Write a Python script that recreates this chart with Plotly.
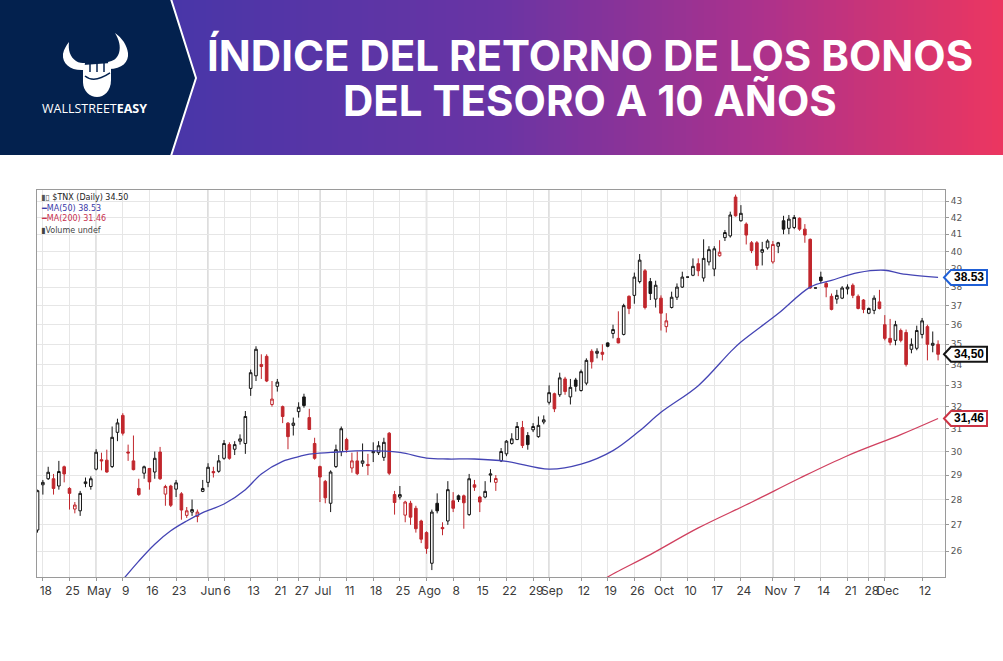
import math
import pandas as pd
import plotly.graph_objects as go

# ---------------- data ($TNX, daily, 2022) ----------------
holidays = ["2022-04-15", "2022-05-30", "2022-06-20", "2022-07-04", "2022-09-05", "2022-11-24"]
days = [d.strftime("%Y-%m-%d") for d in pd.bdate_range("2022-04-14", "2022-12-15")
        if d.strftime("%Y-%m-%d") not in holidays]

open_vals = [
    26.8, 28.6, 28.85, 28.85, 28.55, 29.35, 28.45, 27.62, 27.55, 28.65,   # Apr 14
    28.53, 29.25, 29.65, 29.63, 29.36, 30.84, 31.6, 29.98, 29.6, 28.45,   # Apr 29
    29.08, 29.28, 29.13, 29.98, 28.22, 28.55, 28.42, 28.23, 27.37, 27.5,  # May 13
    27.33, 28.33, 28.7, 29.15, 29.16, 29.71, 30.3, 30.1, 30.45, 30.35,    # May 27
    32.85, 33.45, 34.0, 34.4, 32.1, 32.95, 32.0, 31.25, 31.15, 31.77,     # Jun 13
    32.45, 31.5, 30.35, 29.36, 28.74, 27.85, 29.36, 30.0, 30.52, 29.3,    # Jun 28
    29.6, 29.5, 29.45, 29.95, 29.95, 29.75, 30.8, 28.2, 28.1, 27.38,      # Jul 13
    27.85, 27.65, 27.15, 26.7, 25.55, 27.85, 26.9, 27.15, 27.95, 28.15,   # Jul 27
    28.15, 27.4, 28.6, 28.1, 28.1, 29.0, 28.7, 29.6, 29.9, 30.35,         # Aug 10
    30.52, 31.05, 30.7, 30.95, 30.65, 31.3, 32.2, 32.6, 32.55, 33.3,      # Aug 24
    32.45, 33.25, 32.75, 33.1, 34.65, 34.55, 34.6, 35.07, 35.55, 35.3,    # Sep 8
    35.5, 37.5, 37.55, 38.3, 38.9, 38.3, 37.35, 37.4, 35.9, 36.9,         # Sep 22
    37.45, 38.0, 38.55, 38.65, 39.3, 38.5, 39.4, 39.0, 39.75, 40.8,       # Oct 6
    40.9, 43.25, 41.8, 41.6, 40.5, 40.5, 39.95, 40.2, 39.4, 40.3,         # Oct 20
    41.8, 41.35, 41.4, 41.95, 41.3, 40.7, 37.95, 38.55, 38.2, 37.5,       # Nov 3
    37.35, 37.4, 37.9, 38.1, 37.5, 37.3, 36.6, 36.75, 37.2, 36.0,         # Nov 17
    35.3, 35.2, 35.7, 35.6, 34.75, 34.8, 35.5, 35.9, 34.95, 35.0,         # Dec 2
]
high_vals = [
    28.4, 28.8, 29.35, 29.05, 29.6, 29.4, 28.5, 27.9, 28.35, 28.9,
    28.95, 30.1, 29.95, 30.08, 31.1, 31.45, 31.7, 30.3, 30.7, 28.85,
    29.4, 29.3, 30.0, 30.2, 28.6, 28.6, 28.8, 28.3, 27.7, 28.0,
    27.6, 28.8, 29.5, 29.35, 29.85, 30.5, 30.4, 30.45, 30.75, 31.8,
    33.75, 34.9, 34.5, 34.5, 33.2, 33.3, 32.05, 31.3, 31.5, 32.2,
    32.6, 31.9, 30.6, 29.4, 28.8, 29.2, 30.3, 31.1, 30.6, 29.95,
    30.0, 30.35, 29.9, 30.4, 30.45, 30.6, 30.85, 28.35, 28.55, 27.95,
    27.95, 27.75, 27.2, 26.75, 27.6, 28.25, 27.1, 28.75, 28.3, 28.2,
    28.2, 29.05, 28.8, 28.15, 28.75, 29.25, 29.0, 30.15, 30.5, 30.8,
    31.3, 31.35, 30.85, 31.25, 31.55, 31.6, 33.0, 32.65, 33.6, 33.4,
    33.3, 33.35, 33.75, 34.3, 34.75, 34.8, 35.0, 35.1, 36.0, 36.7,
    37.1, 37.55, 38.8, 39.85, 39.0, 38.5, 38.35, 37.55, 36.6, 37.75,
    38.2, 38.85, 38.55, 39.6, 39.6, 40.7, 40.3, 40.3, 40.65, 41.25,
    42.35, 43.4, 42.75, 41.7, 40.6, 40.6, 40.55, 40.7, 40.6, 40.55,
    42.1, 42.15, 42.15, 42.0, 41.6, 40.75, 37.95, 38.85, 38.3, 37.65,
    37.85, 38.05, 38.15, 38.2, 37.6, 37.35, 36.9, 37.55, 37.85, 36.5,
    36.3, 36.2, 35.8, 35.75, 35.3, 35.95, 36.35, 36.0, 35.65, 35.2,
]
low_vals = [
    26.7, 28.2, 28.8, 28.2, 28.4, 28.7, 27.6, 27.45, 27.35, 28.5,
    28.4, 29.2, 29.2, 29.1, 29.3, 30.45, 30.7, 29.6, 29.2, 28.15,
    28.85, 28.4, 28.85, 28.8, 27.75, 27.7, 28.1, 27.2, 27.27, 27.35,
    27.1, 28.3, 28.5, 28.9, 29.1, 29.65, 29.65, 29.85, 30.3, 29.9,
    32.5, 33.2, 33.3, 33.15, 32.0, 32.7, 31.25, 30.1, 30.7, 31.5,
    31.95, 30.95, 29.65, 27.9, 27.85, 27.5, 29.3, 29.8, 29.95, 29.1,
    29.0, 29.35, 29.0, 29.55, 29.85, 29.6, 29.0, 27.4, 28.0, 27.1,
    27.0, 26.7, 26.3, 25.9, 25.3, 27.45, 26.6, 27.0, 27.5, 27.9,
    26.85, 27.35, 28.35, 27.5, 28.05, 28.7, 28.35, 29.55, 29.8, 30.3,
    30.5, 30.15, 30.08, 30.85, 30.6, 31.2, 32.1, 31.75, 32.45, 32.55,
    32.1, 32.7, 32.7, 33.0, 33.8, 34.3, 34.2, 34.85, 35.3, 35.05,
    35.45, 36.55, 37.1, 38.2, 36.8, 37.3, 36.9, 35.7, 35.6, 36.85,
    37.3, 37.95, 38.55, 38.6, 38.6, 38.3, 39.2, 38.6, 39.7, 40.6,
    40.8, 42.05, 41.75, 40.4, 39.9, 38.95, 39.2, 40.1, 39.3, 39.9,
    41.0, 41.0, 41.3, 41.2, 40.5, 37.9, 37.95, 38.2, 37.45, 36.75,
    37.1, 37.35, 37.6, 37.4, 36.8, 36.6, 36.55, 36.55, 36.8, 35.2,
    34.95, 34.95, 35.1, 33.9, 34.55, 34.7, 35.3, 34.2, 34.6, 34.2,
]
close_vals = [
    28.36, 28.7, 29.12, 28.45, 29.15, 29.05, 28.25, 27.78, 28.25, 28.72,
    28.85, 29.97, 29.6, 29.13, 30.62, 31.26, 30.8, 29.94, 29.23, 28.2,
    29.35, 28.72, 29.71, 28.85, 28.53, 27.77, 28.68, 27.58, 27.55, 27.6,
    27.5, 28.45, 29.33, 29.1, 29.6, 30.35, 29.71, 30.3, 30.55, 31.55,
    33.6, 34.75, 33.9, 33.2, 32.35, 33.15, 31.55, 30.65, 31.25, 31.97,
    32.05, 30.97, 29.71, 28.92, 28.07, 29.13, 30.08, 31.0, 30.08, 29.6,
    29.06, 29.6, 29.4, 30.0, 30.25, 30.4, 29.08, 27.88, 28.2, 27.9,
    27.3, 26.85, 26.45, 26.1, 27.5, 27.55, 26.85, 28.4, 27.65, 28.0,
    27.87, 28.85, 28.5, 27.9, 28.33, 29.05, 28.86, 30.0, 30.45, 30.55,
    31.1, 30.26, 30.3, 31.1, 31.15, 31.4, 32.65, 31.9, 33.35, 32.7,
    32.9, 32.95, 33.65, 34.2, 34.13, 34.65, 34.5, 34.9, 35.75, 35.07,
    37.0, 36.85, 38.55, 39.5, 36.9, 37.65, 38.1, 36.6, 36.2, 37.45,
    38.0, 38.55, 38.55, 39.15, 38.9, 39.6, 40.1, 40.15, 39.95, 41.1,
    42.15, 42.1, 42.25, 40.95, 40.05, 39.2, 40.1, 40.6, 40.4, 40.5,
    41.3, 41.9, 42.0, 41.3, 40.95, 37.95, 37.95, 38.35, 38.0, 36.8,
    37.55, 37.95, 38.0, 37.55, 36.85, 36.8, 36.85, 37.4, 36.85, 35.3,
    35.1, 36.0, 35.2, 34.0, 35.0, 35.7, 36.2, 35.0, 35.05, 34.5,
]

ma50_dates = ["2022-05-09", "2022-05-12", "2022-05-17", "2022-05-20", "2022-05-25", "2022-05-31",
              "2022-06-06", "2022-06-10", "2022-06-15", "2022-06-22", "2022-06-27", "2022-06-29",
              "2022-07-06", "2022-07-15", "2022-07-25", "2022-08-01", "2022-08-05", "2022-08-12",
              "2022-08-22", "2022-09-01", "2022-09-12", "2022-09-20", "2022-09-27", "2022-10-03",
              "2022-10-12", "2022-10-20", "2022-10-24", "2022-11-02", "2022-11-10", "2022-11-16",
              "2022-11-23", "2022-12-01", "2022-12-06", "2022-12-15"]
ma50_values = [24.95, 25.63, 26.26, 26.77, 27.15, 27.48,
               27.82, 28.4, 29.05, 29.58, 29.78, 29.89,
               29.96, 30.04, 29.96, 29.72, 29.68, 29.68,
               29.58, 29.25, 29.46, 30.04, 30.91, 31.74,
               32.98, 34.61, 35.11, 36.58, 38.0, 38.37,
               38.8, 38.93, 38.74, 38.53]

ma200_dates = ["2022-09-16", "2022-09-19", "2022-09-29", "2022-10-12", "2022-10-26",
               "2022-11-08", "2022-11-21", "2022-12-06", "2022-12-15"]
ma200_values = [24.9, 25.05, 25.87, 26.88, 27.89, 28.87, 29.82, 30.74, 31.46]

tick_dates = ["2022-04-18", "2022-04-25", "2022-05-02", "2022-05-09", "2022-05-16", "2022-05-23",
              "2022-06-01", "2022-06-06", "2022-06-13", "2022-06-21", "2022-06-27", "2022-07-01",
              "2022-07-11", "2022-07-18", "2022-07-25", "2022-08-01", "2022-08-08", "2022-08-15",
              "2022-08-22", "2022-08-29", "2022-09-01", "2022-09-12", "2022-09-19", "2022-09-26",
              "2022-10-03", "2022-10-10", "2022-10-17", "2022-10-24", "2022-11-01", "2022-11-07",
              "2022-11-14", "2022-11-21", "2022-11-28", "2022-12-01", "2022-12-12"]
tick_labels = ["18", "25", "May", "9", "16", "23", "Jun", "6", "13", "21", "27", "Jul",
               "11", "18", "25", "Ago", "8", "15", "22", "29", "Sep", "12", "19", "26",
               "Oct", "10", "17", "24", "Nov", "7", "14", "21", "28", "Dec", "12"]
month_dates = ["2022-05-02", "2022-06-01", "2022-07-01", "2022-08-01", "2022-09-01",
               "2022-10-03", "2022-11-01", "2022-12-01"]
price_ticks = list(range(26, 44))

last_close = 34.50
last_ma50 = 38.53
last_ma200 = 31.46

# ---------------- page geometry (pixels) ----------------
W, H = 1003, 661
ML, MR, MT, MB = 37, 58, 190, 84
Y_MIN, Y_MAX = 25.05, 43.69


def px(x):
    return (x - ML) / (W - ML - MR)


def py(y):
    return (H - MB - y) / (H - MT - MB)


def value_to_y(v):
    frac = (math.log10(Y_MAX) - math.log10(v)) / (math.log10(Y_MAX) - math.log10(Y_MIN))
    return MT + frac * (H - MT - MB)


def paper_path(s):
    out = []
    for tok in s.split():
        if tok[0].isalpha():
            out.append(tok)
        else:
            x, y = map(float, tok.split(","))
            out.append(f"{px(x):.5f},{py(y):.5f}")
    return " ".join(out)


def note(x, y, text, size, color="white", family="Inter", anchor="center"):
    return dict(xref="paper", yref="paper", x=px(x), y=py(y), text=text, showarrow=False,
                xanchor=anchor, yanchor="middle",
                font=dict(family=family, size=size, color=color))


# split candles: close vs previous close decides outline colour (black / red)
prev_close = [close_vals[0]] + close_vals[:-1]
is_up = [c >= p for c, p in zip(close_vals, prev_close)]
is_down = [not u for u in is_up]


def pick(vals, keep):
    return [v if k else None for v, k in zip(vals, keep)]


RED = "#c1272d"
BLACK = "#151515"

fig = go.Figure()

fig.add_trace(go.Candlestick(
    x=days,
    open=pick(open_vals, is_up), high=pick(high_vals, is_up),
    low=pick(low_vals, is_up), close=pick(close_vals, is_up),
    increasing=dict(line=dict(color=BLACK, width=1), fillcolor="white"),
    decreasing=dict(line=dict(color=BLACK, width=1), fillcolor=BLACK),
    whiskerwidth=0, hoverinfo="skip", name="up",
))
fig.add_trace(go.Candlestick(
    x=days,
    open=pick(open_vals, is_down), high=pick(high_vals, is_down),
    low=pick(low_vals, is_down), close=pick(close_vals, is_down),
    increasing=dict(line=dict(color=RED, width=1), fillcolor="white"),
    decreasing=dict(line=dict(color=RED, width=1), fillcolor=RED),
    whiskerwidth=0, hoverinfo="skip", name="down",
))

# moving averages
fig.add_trace(go.Scatter(x=ma50_dates, y=ma50_values, mode="lines", line_shape="spline",
                         line=dict(color="#4444b4", width=1.3), hoverinfo="skip"))
fig.add_trace(go.Scatter(x=ma200_dates, y=ma200_values, mode="lines", line_shape="spline",
                         line=dict(color="#d0405f", width=1.3), hoverinfo="skip"))

shapes = []

# month separators (slightly darker grid lines)
for d in month_dates:
    i = days.index(d)
    shapes.append(dict(type="line", xref="x", yref="paper", x0=i, x1=i, y0=0, y1=1,
                       line=dict(color="#cfcfcf", width=1.5), layer="below"))

# header: gradient banner built from thin strips
stops = [(170, (72, 54, 168)), (500, (106, 52, 164)), (760, (172, 50, 140)), (1003, (236, 54, 96))]


def grad(x):
    for (x0, c0), (x1, c1) in zip(stops[:-1], stops[1:]):
        if x <= x1:
            t = (x - x0) / (x1 - x0)
            return "rgb(%d,%d,%d)" % tuple(round(a + (b - a) * t) for a, b in zip(c0, c1))
    return "rgb(%d,%d,%d)" % stops[-1][1]


step = 6
for x in range(170, W, step):
    shapes.append(dict(type="rect", xref="paper", yref="paper",
                       x0=px(x), x1=px(min(x + step + 1, W)), y0=py(155), y1=py(0),
                       fillcolor=grad(x + step / 2), line=dict(width=0)))

# dark chevron panel with white edge
shapes.append(dict(type="path", xref="paper", yref="paper",
                   path=paper_path("M 0,0 L 171,0 L 196,78 L 171,155 L 0,155 Z"),
                   fillcolor="#03214e", line=dict(width=0)))
shapes.append(dict(type="path", xref="paper", yref="paper",
                   path=paper_path("M 171,-1 L 196,78 L 171,156"),
                   line=dict(color="white", width=2)))

# logo: horns and fist
logo_white = [
    "M 84,70 C 71,71 62,64 63,54 C 64,49 66,46 69,42 C 68,50 70,57 76,61 C 79,63 82,63 85,63 Z",
    "M 109,69 C 122,69 129,62 128,53 C 127,45 122,38 115,33 C 119,40 121,46 119,53 C 117,59 113,61 108,62 Z",
    "M 83,65 L 111,63 L 111,80 C 111,91 104,97 97,97 C 90,97 83,91 83,82 Z",
]
for p in logo_white:
    shapes.append(dict(type="path", xref="paper", yref="paper", path=paper_path(p),
                       fillcolor="white", line=dict(width=0)))
for p in ["M 90,63 L 90,72", "M 97,63 L 97,72", "M 104,63 L 104,72",
          "M 85,76 C 92,82 101,79 110,73"]:
    shapes.append(dict(type="path", xref="paper", yref="paper", path=paper_path(p),
                       line=dict(color="#03214e", width=1.5)))

# price tags on the right axis
annotations = []
tags = [(last_ma50, "#1f5fd6", "38.53"), (last_close, BLACK, "34,50"), (last_ma200, "#cc3344", "31,46")]
for val, col, txt in tags:
    yc = value_to_y(val)
    shapes.append(dict(type="path", xref="paper", yref="paper",
                       path=paper_path(f"M 944,{yc} L 951,{yc - 7.5} L 987,{yc - 7.5} "
                                       f"L 987,{yc + 7.5} L 951,{yc + 7.5} Z"),
                       fillcolor="white", line=dict(color=col, width=2)))
    annotations.append(note(969, yc, f"<b>{txt}</b>", 12, color="black", family="Liberation Sans"))

# header texts
annotations += [
    note(590, 55, "<b>ÍNDICE DEL RETORNO DE LOS BONOS</b>", 42),
    note(590, 100, "<b>DEL TESORO A 10 AÑOS</b>", 42),
    note(94, 108, "WALLSTREET<b>EASY</b>", 12.5, family="Open Sans"),
]

# in-chart legend
legend_lines = [
    ("<span style='color:#555'>▮▯</span> $TNX (Daily) 34.50", "#222"),
    ("━MA(50) 38.53", "#3a3aa8"),
    ("━MA(200) 31.46", "#c8304e"),
    ("▮Volume undef", "#444"),
]
for k, (txt, col) in enumerate(legend_lines):
    annotations.append(note(39, 197 + 11 * k, txt, 8, color=col, family="DejaVu Sans", anchor="left"))

fig.update_layout(
    width=W, height=H,
    margin=dict(l=ML, r=MR, t=MT, b=MB),
    paper_bgcolor="white", plot_bgcolor="white",
    showlegend=False,
    shapes=shapes,
    annotations=annotations,
    xaxis=dict(
        type="category", categoryorder="array", categoryarray=days,
        range=[-0.1, len(days) + 0.3],
        rangeslider=dict(visible=False),
        tickmode="array", tickvals=tick_dates, ticktext=tick_labels,
        tickangle=0,
        tickfont=dict(family="Inter", size=12, color="#3a3a3a"),
        ticks="outside", ticklen=3, tickcolor="#999",
        showgrid=True, gridcolor="#e6e6e6", gridwidth=1,
        showline=True, linecolor="#9a9a9a", mirror=True,
        ticklabelshift=3,
    ),
    yaxis=dict(
        type="log", side="right",
        range=[math.log10(Y_MIN), math.log10(Y_MAX)],
        tickmode="array", tickvals=price_ticks, ticktext=[str(v) for v in price_ticks],
        tickfont=dict(family="DejaVu Sans", size=9, color="#555"),
        ticks="outside", ticklen=3, tickcolor="#999",
        showgrid=True, gridcolor="#e6e6e6", gridwidth=1,
        showline=True, linecolor="#9a9a9a", mirror=True,
    ),
)

fig.write_html("out.html", config={"displayModeBar": False},
               post_script="document.body.style.margin='0';")
